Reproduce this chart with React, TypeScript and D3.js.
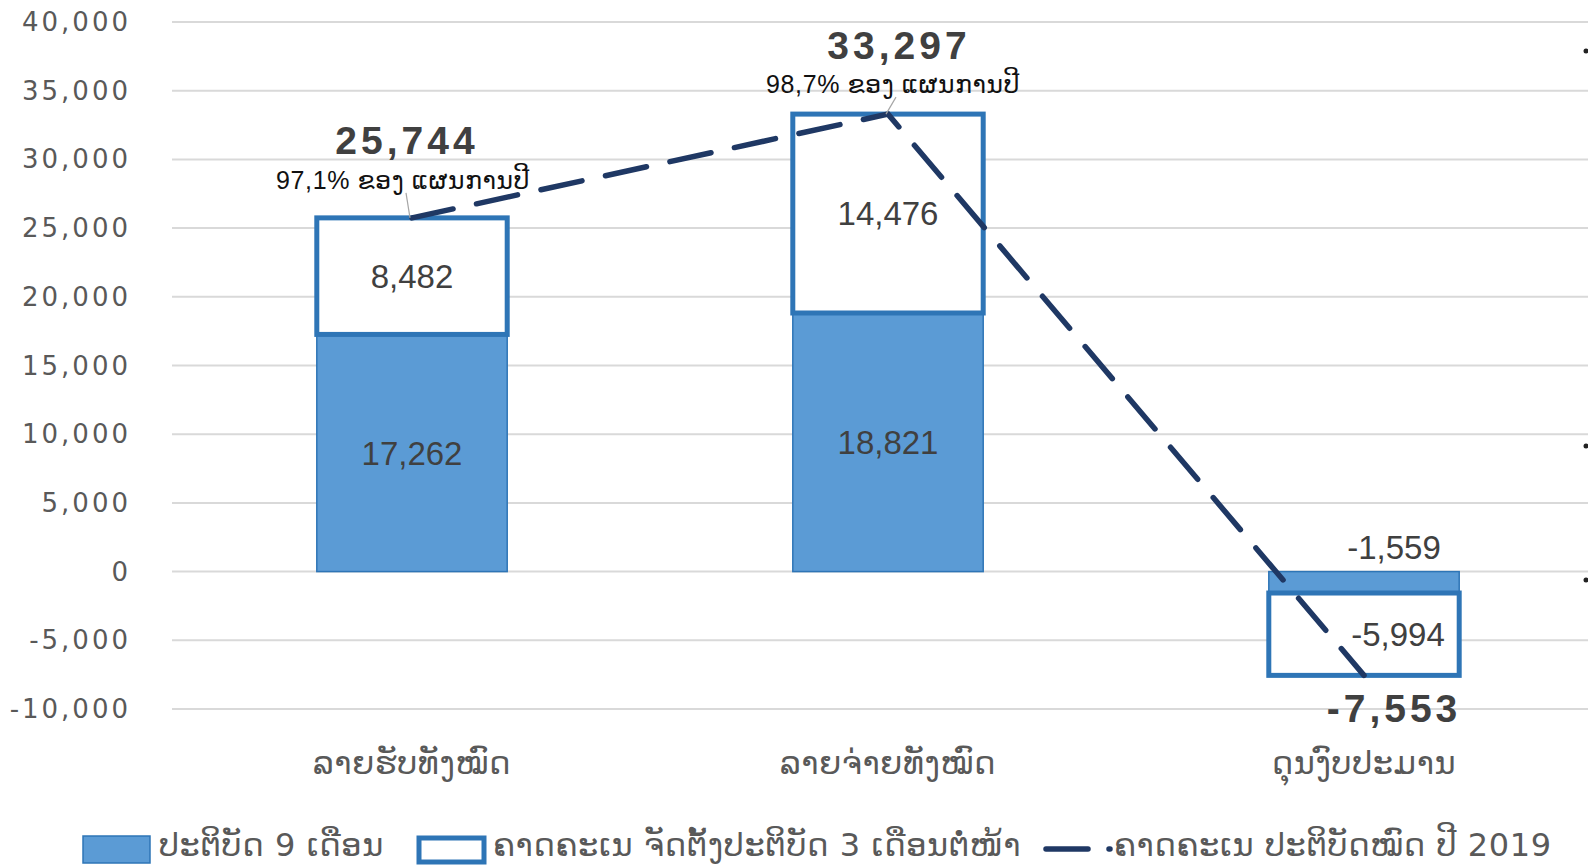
import React, { useEffect, useRef } from 'react';
import * as d3 from 'd3';

// categories and series
const categories = ['ລາຍຮັບທັງໝົດ', 'ລາຍຈ່າຍທັງໝົດ', 'ດຸນງົບປະມານ'];
const actual9m = [17262, 18821, -1559];
const forecast3m = [8482, 14476, -5994];
const totalYear = [25744, 33297, -7553];
const planShare = ['97,1% ຂອງ ແຜນການປີ', '98,7% ຂອງ ແຜນການປີ', ''];
const yTicks = [-10000, -5000, 0, 5000, 10000, 15000, 20000, 25000, 30000, 35000, 40000];
const legendNames = ['ປະຕິບັດ 9 ເດືອນ', 'ຄາດຄະເນ ຈັດຕັ້ງປະຕິບັດ 3 ເດືອນຕໍ່ໜ້າ', 'ຄາດຄະເນ ປະຕິບັດໝົດ ປີ 2019'];

// hand-placed label nudges (as in the source workbook)
const totalNudge = [[-5, -77], [11, -69], [30, 33]];
const shareNudge = [[-9, -38], [5, -30]];
const segNudgeX = [0, 0, 30];

const W = 1588;
const H = 865;
const FILL = '#5B9BD5';
const EDGE = '#2E75B6';
const NAVY = '#1F3864';
const GREY = '#595959';
const DARK = '#404040';
const LAO = '"DejaVu Sans", sans-serif';
const NUM = '"Liberation Sans", "DejaVu Sans", sans-serif';

const locale = d3.formatLocale({ decimal: '.', thousands: ',', grouping: [3], currency: ['', ''], minus: '-' });
const fmt = locale.format(',');

export default function App() {
  const svgRef = useRef<SVGSVGElement>(null);

  useEffect(() => {
    const svg = d3.select(svgRef.current).html('');

    const y = d3.scaleLinear().domain([-10000, 40000]).range([709, 22]);
    const x = d3.scaleBand().domain(categories).range([174, 1602]).paddingInner(0.6).paddingOuter(0.3);
    const bw = x.bandwidth();
    const cx = (i: number) => (x(categories[i]) as number) + bw / 2;

    // gridlines
    svg.append('g')
      .selectAll('line')
      .data(yTicks)
      .join('line')
      .attr('x1', 172).attr('x2', W)
      .attr('y1', d => y(d)).attr('y2', d => y(d))
      .attr('stroke', '#d9d9d9').attr('stroke-width', 2);

    // y tick labels
    svg.append('g')
      .selectAll('text')
      .data(yTicks)
      .join('text')
      .attr('x', 131).attr('y', d => y(d))
      .attr('text-anchor', 'end').attr('dominant-baseline', 'central')
      .attr('font-family', '"DejaVu Sans", sans-serif').attr('font-size', 26)
      .attr('letter-spacing', 3)
      .attr('fill', GREY)
      .text(d => fmt(d));

    // actual 9 months (filled)
    svg.append('g')
      .selectAll('rect')
      .data(actual9m)
      .join('rect')
      .attr('x', (d, i) => x(categories[i]) as number)
      .attr('width', bw)
      .attr('y', d => Math.min(y(0), y(d)))
      .attr('height', d => Math.abs(y(d) - y(0)))
      .attr('fill', FILL).attr('stroke', EDGE).attr('stroke-width', 1.5);

    // forecast 3 months (outlined, stacked on top)
    svg.append('g')
      .selectAll('rect')
      .data(forecast3m)
      .join('rect')
      .attr('x', (d, i) => x(categories[i]) as number)
      .attr('width', bw)
      .attr('y', (d, i) => Math.min(y(actual9m[i]), y(actual9m[i] + d)))
      .attr('height', (d, i) => Math.abs(y(actual9m[i] + d) - y(actual9m[i])))
      .attr('fill', 'white').attr('stroke', EDGE).attr('stroke-width', 5);

    // segment labels
    const seg = svg.append('g')
      .attr('font-family', NUM).attr('font-size', 33).attr('fill', DARK)
      .attr('text-anchor', 'middle').attr('dominant-baseline', 'central');
    actual9m.forEach((v, i) => {
      const h = Math.abs(y(v) - y(0));
      const yy = h < 40 ? y(0) - 24 : (y(0) + y(v)) / 2;
      seg.append('text').attr('x', cx(i) + segNudgeX[i]).attr('y', yy).text(fmt(v));
    });
    forecast3m.forEach((v, i) => {
      const yy = (y(actual9m[i]) + y(actual9m[i] + v)) / 2;
      seg.append('text').attr('x', cx(i) + segNudgeX[i] + 4 * Math.sign(segNudgeX[i])).attr('y', yy).text(fmt(v));
    });

    // full-year projection line
    const line = d3.line<number>().x((d, i) => cx(i)).y(d => y(d));
    svg.append('path')
      .attr('d', line(totalYear))
      .attr('fill', 'none').attr('stroke', NAVY).attr('stroke-width', 5.5)
      .attr('stroke-linecap', 'round').attr('stroke-dasharray', '42 24');

    // leader lines + labels for totals
    totalYear.forEach((v, i) => {
      const px = cx(i);
      const py = y(v);
      if (planShare[i]) {
        const [sx, sy] = shareNudge[i];
        svg.append('line')
          .attr('x1', px + sx + 3).attr('y1', py + sy + 13)
          .attr('x2', px - 2).attr('y2', py)
          .attr('stroke', '#a6a6a6').attr('stroke-width', 1.2);
        svg.append('text')
          .attr('x', px + sx).attr('y', py + sy)
          .attr('text-anchor', 'middle').attr('dominant-baseline', 'central')
          .attr('font-family', NUM).attr('font-size', 25).attr('letter-spacing', 0.6).attr('fill', '#111')
          .text(planShare[i]);
      }
      const [tx, ty] = totalNudge[i];
      svg.append('text')
        .attr('x', px + tx).attr('y', py + ty)
        .attr('text-anchor', 'middle').attr('dominant-baseline', 'central')
        .attr('font-family', NUM).attr('font-size', 39).attr('font-weight', 'bold')
        .attr('letter-spacing', 4).attr('fill', DARK)
        .text(fmt(v));
    });

    // category labels
    svg.append('g')
      .selectAll('text')
      .data(categories)
      .join('text')
      .attr('x', (d, i) => cx(i)).attr('y', 763)
      .attr('text-anchor', 'middle').attr('dominant-baseline', 'central')
      .attr('font-family', LAO).attr('font-size', 32).attr('letter-spacing', 0.6).attr('fill', GREY)
      .text(d => d);

    // legend
    const lg = svg.append('g')
      .attr('font-family', LAO).attr('font-size', 32).attr('letter-spacing', 0.6).attr('fill', GREY);
    lg.append('rect').attr('x', 83).attr('y', 836).attr('width', 67).attr('height', 27)
      .attr('fill', FILL).attr('stroke', EDGE).attr('stroke-width', 1.5);
    lg.append('text').attr('x', 159).attr('y', 845).attr('dominant-baseline', 'central').text(legendNames[0]);
    lg.append('rect').attr('x', 419).attr('y', 838).attr('width', 65).attr('height', 24)
      .attr('fill', 'white').attr('stroke', EDGE).attr('stroke-width', 5);
    lg.append('text').attr('x', 493).attr('y', 845).attr('dominant-baseline', 'central').text(legendNames[1]);
    lg.append('line').attr('x1', 1046).attr('x2', 1110).attr('y1', 849).attr('y2', 849)
      .attr('stroke', NAVY).attr('stroke-width', 5.5)
      .attr('stroke-linecap', 'round').attr('stroke-dasharray', '42 21');
    lg.append('text').attr('x', 1114).attr('y', 845).attr('dominant-baseline', 'central').text(legendNames[2]);

    // cropped marks at the right edge of the slide
    svg.append('g')
      .selectAll('circle')
      .data([51, 446, 580])
      .join('circle')
      .attr('cx', 1586).attr('cy', d => d).attr('r', 2.5).attr('fill', '#222');
  }, []);

  return (
    <svg
      ref={svgRef}
      width={W}
      height={H}
      style={{ position: 'absolute', left: 0, top: 0, background: 'white' }}
    />
  );
}
